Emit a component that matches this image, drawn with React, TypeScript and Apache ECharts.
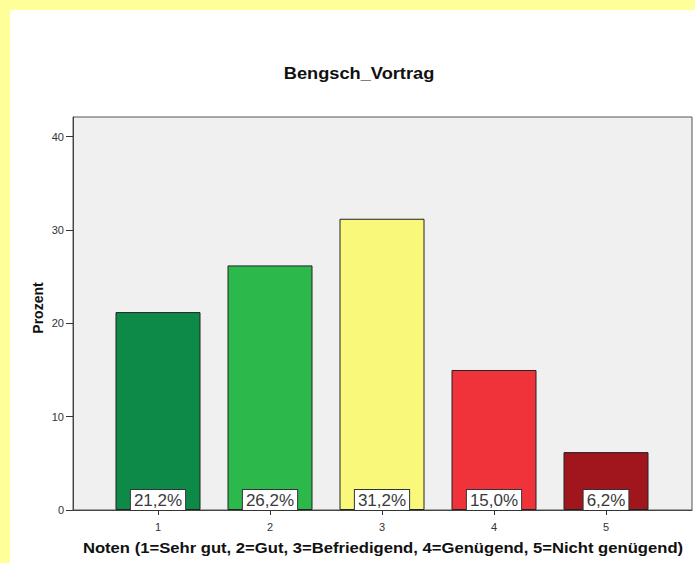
import React, { useEffect, useRef } from "react";
import * as echarts from "echarts";

const categories = ["1", "2", "3", "4", "5"];
const percentValues = [21.2, 26.2, 31.2, 15.0, 6.2];
const barColors = ["#0E8A48", "#2DB84B", "#FAF87A", "#F0333B", "#A0161C"];
const yTicks = [0, 10, 20, 30, 40];
const titleText = "Bengsch_Vortrag";
const yName = "Prozent";
const xName = "Noten (1=Sehr gut, 2=Gut, 3=Befriedigend, 4=Genügend, 5=Nicht genügend)";

const FONT = "Arial, 'Liberation Sans', sans-serif";

export default function App() {
  const ref = useRef<HTMLDivElement>(null);
  useEffect(() => {
    if (!ref.current) return;
    const chart = echarts.init(ref.current, undefined, { renderer: "svg" });
    const yMax = 42.1;
    chart.setOption({
      animation: false,
      backgroundColor: "#FFFFFF",
      textStyle: { fontFamily: FONT },
      graphic: [
        {
          type: "text",
          x: 349,
          y: 63,
          scaleX: 1.14,
          style: {
            text: titleText,
            font: `bold 16px ${FONT}`,
            fill: "#111",
            textAlign: "center",
            textVerticalAlign: "middle",
          },
        },
        {
          type: "text",
          x: 28,
          y: 298,
          rotation: Math.PI / 2,
          style: {
            text: yName,
            font: `bold 14px ${FONT}`,
            fill: "#111",
            textAlign: "center",
            textVerticalAlign: "middle",
          },
        },
        {
          type: "text",
          x: 373,
          y: 538,
          scaleX: 1.11,
          style: {
            text: xName,
            font: `bold 15px ${FONT}`,
            fill: "#111",
            textAlign: "center",
            textVerticalAlign: "middle",
          },
        },
      ],
      grid: [
        {
          left: 63,
          right: 3,
          top: 107,
          bottom: 53,
          show: true,
          backgroundColor: "#F0F0F0",
          borderColor: "#555",
          borderWidth: 1,
        },
        { left: 92, right: 33, top: 107, bottom: 53 },
      ],
      xAxis: [
        {
          gridIndex: 0,
          type: "value",
          min: 0,
          max: 1,
          axisLine: { show: true, lineStyle: { color: "#444", width: 1 } },
          axisTick: { show: false },
          axisLabel: { show: false },
          splitLine: { show: false },
        },
        {
          gridIndex: 1,
          type: "category",
          data: categories,
          axisLine: { show: false },
          axisTick: {
            show: true,
            alignWithLabel: true,
            length: 5,
            lineStyle: { color: "#333" },
          },
          axisLabel: { margin: 11, fontSize: 11, color: "#333", fontFamily: FONT },
          splitLine: { show: false },
        },
      ],
      yAxis: [
        {
          gridIndex: 0,
          type: "value",
          min: yTicks[0],
          max: yMax,
          interval: 10,
          axisLine: { show: true, lineStyle: { color: "#444", width: 1 } },
          axisTick: { show: true, length: 7, lineStyle: { color: "#333" } },
          axisLabel: {
            margin: 9,
            fontSize: 11,
            color: "#333",
            fontFamily: FONT,
            showMaxLabel: false,
          },
          splitLine: { show: false },
        },
        {
          gridIndex: 1,
          type: "value",
          min: yTicks[0],
          max: yMax,
          show: false,
        },
      ],
      series: [
        {
          type: "bar",
          xAxisIndex: 1,
          yAxisIndex: 1,
          barWidth: 85,
          data: percentValues.map((v, i) => ({
            value: v,
            itemStyle: { color: barColors[i], borderColor: "#222", borderWidth: 1 },
          })),
          label: {
            show: true,
            position: "insideBottom",
            distance: 0,
            formatter: (p: any) => p.value.toFixed(1).replace(".", ",") + "%",
            fontSize: 17,
            fontFamily: FONT,
            color: "#3a3a3a",
            backgroundColor: "#FFFFFF",
            borderColor: "#333",
            borderWidth: 1,
            padding: [2, 3, 1, 3],
            lineHeight: 17,
          },
        },
      ],
    });
    return () => chart.dispose();
  }, []);

  return (
    <div
      style={{
        position: "absolute",
        left: 0,
        top: 0,
        width: 695,
        height: 563,
        background: "#FFFF99",
      }}
    >
      <div
        ref={ref}
        style={{ position: "absolute", left: 10, top: 10, width: 685, height: 553 }}
      />
    </div>
  );
}
